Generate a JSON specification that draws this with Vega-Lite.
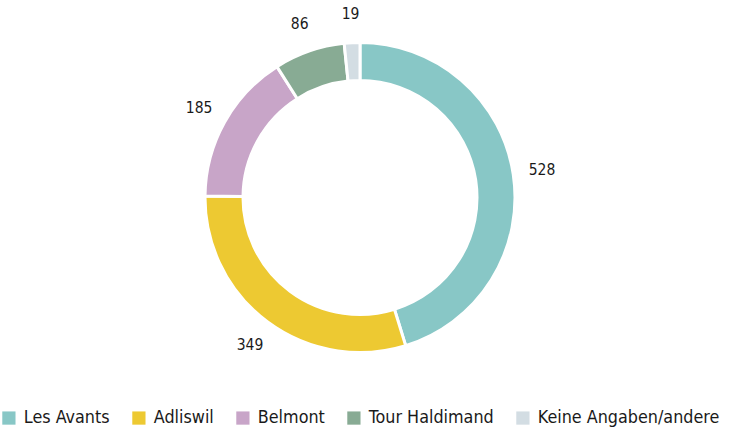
{
  "$schema": "https://vega.github.io/schema/vega-lite/v6.json",
  "width": 729,
  "height": 433,
  "autosize": {"type": "fit", "contains": "padding"},
  "padding": {"left": 0, "right": 9, "top": 4, "bottom": 6},
  "background": "white",
  "data": {
    "values": [
      {"kategorie": "Les Avants", "anzahl": 528, "ord": 1},
      {"kategorie": "Adliswil", "anzahl": 349, "ord": 2},
      {"kategorie": "Belmont", "anzahl": 185, "ord": 3},
      {"kategorie": "Tour Haldimand", "anzahl": 86, "ord": 4},
      {"kategorie": "Keine Angaben/andere", "anzahl": 19, "ord": 5}
    ]
  },
  "encoding": {
    "theta": {"field": "anzahl", "type": "quantitative", "stack": true},
    "order": {"field": "ord", "type": "quantitative"},
    "color": {
      "field": "kategorie",
      "type": "nominal",
      "sort": ["Les Avants", "Adliswil", "Belmont", "Tour Haldimand", "Keine Angaben/andere"],
      "scale": {
        "domain": ["Les Avants", "Adliswil", "Belmont", "Tour Haldimand", "Keine Angaben/andere"],
        "range": ["#88c7c6", "#edc932", "#c8a5c8", "#88ab94", "#d3dde3"]
      },
      "legend": {
        "orient": "bottom",
        "direction": "horizontal",
        "title": null,
        "symbolType": "square",
        "symbolSize": 175,
        "symbolStrokeWidth": 0,
        "labelFont": "DejaVu Sans Condensed",
        "labelFontSize": 17.8,
        "labelLimit": 400,
        "labelColor": "#1a1a1a",
        "columnPadding": 20,
        "labelOffset": 6
      }
    }
  },
  "layer": [
    {
      "mark": {"type": "arc", "outerRadius": 155, "innerRadius": 117, "stroke": "white", "strokeWidth": 3}
    },
    {
      "mark": {"type": "text", "radius": 184, "font": "DejaVu Sans Condensed", "fontSize": 15.5, "color": "#1a1a1a"},
      "encoding": {
        "text": {"field": "anzahl", "type": "quantitative"},
        "color": {"value": "#1a1a1a"}
      }
    }
  ],
  "view": {"stroke": null},
  "config": {"view": {"stroke": null}}
}
